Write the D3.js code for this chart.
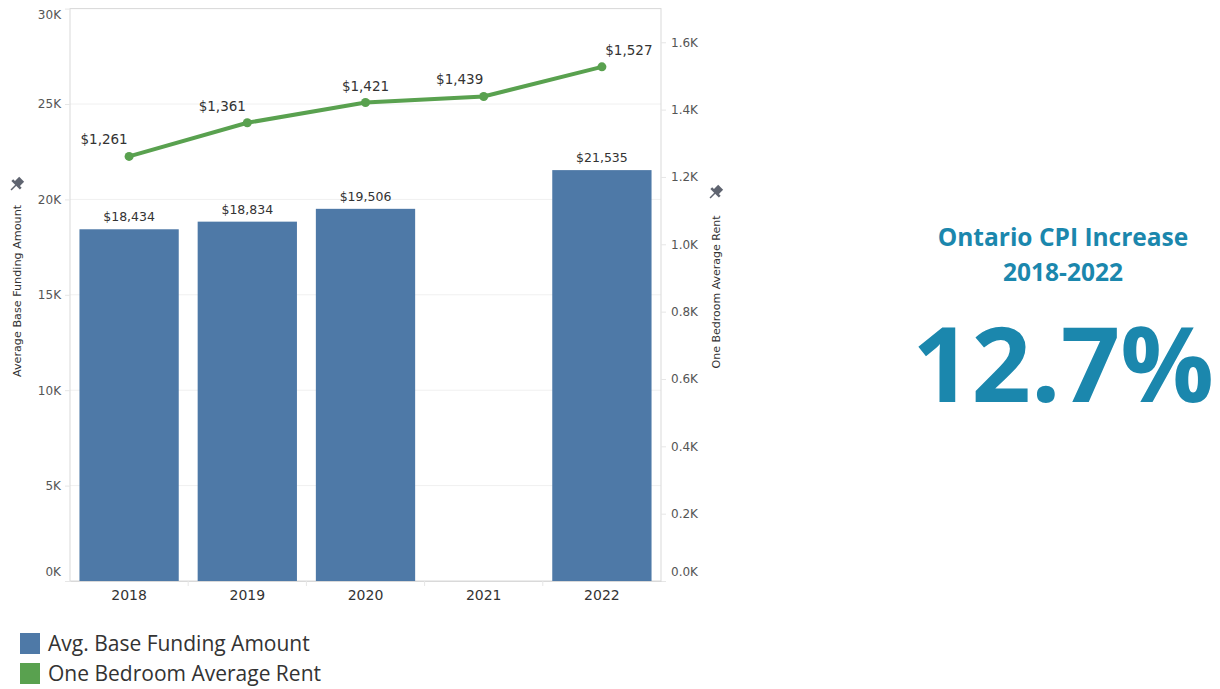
<!DOCTYPE html>
<html>
<head>
<meta charset="utf-8">
<script src="https://cdn.jsdelivr.net/npm/d3@7"></script>
<style>
  body { margin: 0; background: #fff; }
  svg text { font-family: "DejaVu Sans", Verdana, sans-serif; }
</style>
</head>
<body>
<div id="vis"></div>
<script>
// data
const years = ["2018", "2019", "2020", "2021", "2022"];
const funding = [18434, 18834, 19506, null, 21535];
const rent = [1261, 1361, 1421, 1439, 1527];
const leftTicks = [0, 5000, 10000, 15000, 20000, 25000, 30000];
const rightTicks = [0, 200, 400, 600, 800, 1000, 1200, 1400, 1600];
const legendItems = ["Avg. Base Funding Amount", "One Bedroom Average Rent"];

const svg = d3.select("#vis")
    .append("svg")
    .attr("width", 1220)
    .attr("height", 689);

const plot = { left: 70, right: 661, top: 8.6, bottom: 581 };
const barColor = "#4e79a7";
const lineColor = "#59a14f";
const cpiColor = "#1b87ad";

const x = d3.scaleBand()
    .domain(years)
    .range([plot.left, plot.right])
    .paddingInner(0.16)
    .paddingOuter(0.08);

const yL = d3.scaleLinear().domain([0, 30000]).range([plot.bottom, plot.top]);
const yR = d3.scaleLinear().domain([0, 1700]).range([plot.bottom, plot.top]);

// gridlines
svg.append("g")
    .selectAll("line")
    .data(leftTicks.slice(1))
    .enter()
    .append("line")
    .attr("x1", plot.left).attr("x2", plot.right)
    .attr("y1", d => yL(d)).attr("y2", d => yL(d))
    .style("stroke", "#f0f0f0");

// frame
svg.append("rect")
    .attr("x", plot.left).attr("y", plot.top)
    .attr("width", plot.right - plot.left)
    .attr("height", plot.bottom - plot.top)
    .style("fill", "none")
    .style("stroke", "#d9d9d9");

// bars
const bars = funding.map((v, i) => ({ year: years[i], v: v })).filter(d => d.v != null);
svg.append("g")
    .selectAll("rect")
    .data(bars)
    .enter()
    .append("rect")
    .attr("x", d => x(d.year))
    .attr("width", x.bandwidth())
    .attr("y", d => yL(d.v))
    .attr("height", d => plot.bottom - yL(d.v))
    .style("fill", barColor);

const fmt = d3.format("$,");

svg.append("g")
    .selectAll("text")
    .data(bars)
    .enter()
    .append("text")
    .attr("x", d => x(d.year) + x.bandwidth() / 2)
    .attr("y", d => yL(d.v) - 8)
    .attr("text-anchor", "middle")
    .style("font-size", "12.5px")
    .style("fill", "#333")
    .text(d => fmt(d.v));

// line
const pts = rent.map((v, i) => ({ year: years[i], v: v }));
const cx = d => x(d.year) + x.bandwidth() / 2;
const line = d3.line()
    .x(cx)
    .y(d => yR(d.v));

svg.append("path")
    .datum(pts)
    .attr("d", line)
    .style("fill", "none")
    .style("stroke", lineColor)
    .style("stroke-width", 4);

svg.append("g")
    .selectAll("circle")
    .data(pts)
    .enter()
    .append("circle")
    .attr("cx", cx)
    .attr("cy", d => yR(d.v))
    .attr("r", 4.5)
    .style("fill", lineColor);

// label placement like tableau: left of point, centered, or right at the end
const shift = [-25, -25, 0, -24, 27];
svg.append("g")
    .selectAll("text")
    .data(pts)
    .enter()
    .append("text")
    .attr("x", (d, i) => cx(d) + shift[i])
    .attr("y", d => yR(d.v) - 12)
    .attr("text-anchor", "middle")
    .style("font-size", "13.5px")
    .style("fill", "#333")
    .text(d => fmt(d.v));

// axes
const leftAxis = svg.append("g")
    .attr("transform", `translate(${plot.left},0)`)
    .call(d3.axisLeft(yL).tickValues(leftTicks).tickSize(5).tickPadding(4).tickFormat(d => d / 1000 + "K"));
leftAxis.select(".domain").remove();
leftAxis.selectAll("line").style("stroke", "#e6e6e6");
leftAxis.selectAll("text")
    .style("font-size", "12px").style("fill", "#555")
    .attr("dy", d => d === 0 ? "-0.45em" : d === 30000 ? "0.85em" : "0.32em");

const rightAxis = svg.append("g")
    .attr("transform", `translate(${plot.right},0)`)
    .call(d3.axisRight(yR).tickValues(rightTicks).tickSize(5).tickPadding(5).tickFormat(d => (d / 1000).toFixed(1) + "K"));
rightAxis.select(".domain").remove();
rightAxis.selectAll("line").style("stroke", "#e6e6e6");
rightAxis.selectAll("text")
    .style("font-size", "12px").style("fill", "#555")
    .attr("dy", d => d === 0 ? "-0.45em" : "0.32em");

const bottomAxis = svg.append("g")
    .attr("transform", `translate(0,${plot.bottom})`)
    .call(d3.axisBottom(x).tickSize(0).tickPadding(9));
bottomAxis.select(".domain").style("stroke", "#d9d9d9");
bottomAxis.selectAll("text").style("font-size", "14px").style("fill", "#333");

// small separator ticks between categories
svg.append("g")
    .selectAll("line")
    .data(years.slice(1))
    .enter()
    .append("line")
    .attr("x1", d => x(d) - x.step() * x.paddingInner() / 2)
    .attr("x2", d => x(d) - x.step() * x.paddingInner() / 2)
    .attr("y1", plot.bottom).attr("y2", plot.bottom + 5)
    .style("stroke", "#e6e6e6");

// axis titles
svg.append("text")
    .attr("transform", "translate(21,291) rotate(-90)")
    .attr("text-anchor", "middle")
    .style("font-size", "11.2px").style("fill", "#333")
    .text("Average Base Funding Amount");

svg.append("text")
    .attr("transform", "translate(720,292) rotate(-90)")
    .attr("text-anchor", "middle")
    .style("font-size", "11px").style("fill", "#333")
    .text("One Bedroom Average Rent");

// pin icons
function pin(px, py) {
    const g = svg.append("g").attr("transform", `translate(${px},${py}) rotate(45)`);
    g.append("rect").attr("x", -3.5).attr("y", -8).attr("width", 7).attr("height", 7).style("fill", "#5f6470");
    g.append("rect").attr("x", -6).attr("y", -2).attr("width", 12).attr("height", 2.5).style("fill", "#5f6470");
    g.append("line").attr("x1", 0).attr("x2", 0).attr("y1", 0).attr("y2", 7).style("stroke", "#5f6470").style("stroke-width", 1.5);
}
pin(16, 185);
pin(715, 193);

// legend
const legend = svg.append("g").attr("transform", "translate(20,633)");
legend.selectAll("rect")
    .data(legendItems)
    .enter()
    .append("rect")
    .attr("x", 0)
    .attr("y", (d, i) => i * 30)
    .attr("width", 20).attr("height", 21)
    .style("fill", (d, i) => i === 0 ? barColor : lineColor);
legend.selectAll("text")
    .data(legendItems)
    .enter()
    .append("text")
    .attr("x", 28)
    .attr("y", (d, i) => i * 30 + 18)
    .style("font-size", "21px")
    .style("fill", "#333")
    .style("font-family", "'Open Sans', sans-serif")
    .text(d => d);

// CPI text
const cpi = svg.append("g").attr("text-anchor", "middle").style("fill", cpiColor);
cpi.append("text").attr("x", 1063).attr("y", 246)
    .style("font-family", "'Open Sans', sans-serif").style("font-weight", "bold").style("font-size", "24.5px")
    .text("Ontario CPI Increase");
cpi.append("text").attr("x", 1063).attr("y", 281)
    .style("font-family", "'Open Sans', sans-serif").style("font-weight", "bold").style("font-size", "24.5px")
    .text("2018-2022");
cpi.append("text").attr("x", 1063).attr("y", 402)
    .style("font-family", "'Open Sans', sans-serif").style("font-weight", "bold").style("font-size", "104px")
    .text("12.7%");
</script>
</body>
</html>
